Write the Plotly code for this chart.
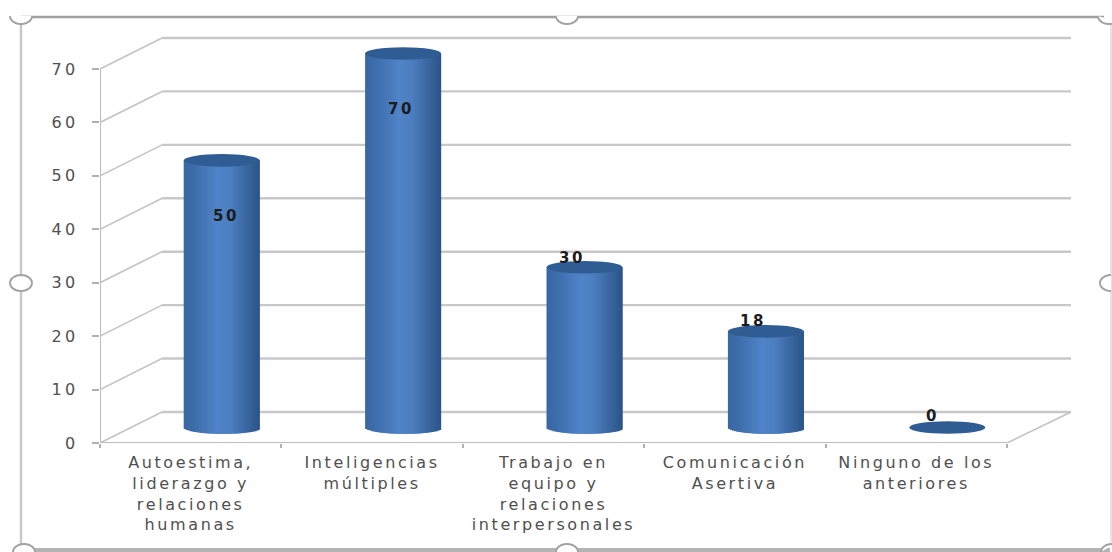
import math
import plotly.graph_objects as go

# Survey results shown as a pseudo-3D cylinder column chart
categories = [
    ["Autoestima,", "liderazgo y", "relaciones", "humanas"],
    ["Inteligencias", "múltiples"],
    ["Trabajo en", "equipo y", "relaciones", "interpersonales"],
    ["Comunicación", "Asertiva"],
    ["Ninguno de los", "anteriores"],
]
values = [50, 70, 30, 18, 0]
y_ticks = [0, 10, 20, 30, 40, 50, 60, 70]
# Where each value label sits relative to its cylinder (axis units)
label_dx = [0.022, -0.012, -0.07, -0.07, -0.08]
label_y = [42.4, 62.6, 34.6, 22.8, 5.1]

W, H = 1112, 552
PLOT_L, PLOT_R, PLOT_T, PLOT_B = 100, 1071, 30, 443
PX_PER_CAT = 181.4
PX_PER_UNIT = 5.343
X_MIN = -0.5
X_MAX = X_MIN + (PLOT_R - PLOT_L) / PX_PER_CAT
Y_MAX = (PLOT_B - PLOT_T) / PX_PER_UNIT

DEPTH_X = 62 / PX_PER_CAT      # floor depth along x
DEPTH_Y = 31 / PX_PER_UNIT     # floor depth along y
CYL_W = 76 / PX_PER_CAT
CYL_B = 6.3 / PX_PER_UNIT      # ellipse half-height
STRIPS = 38


def px(x):
    return (x - PLOT_L) / (PLOT_R - PLOT_L)


def py(y):
    return (PLOT_B - y) / (PLOT_B - PLOT_T)


def spaced(text, gap):
    # Wide tracking for axis and value text
    return f'<span style="letter-spacing:{gap}px">{text}</span>'


def shade(u):
    # u runs 0..1 across the cylinder; brightest left of centre
    stops = [(0.0, (58, 104, 164)), (0.12, (60, 108, 170)), (0.45, (80, 131, 200)),
             (0.62, (76, 126, 192)), (0.85, (56, 100, 156)), (1.0, (44, 84, 134))]
    for (a, ca), (b, cb) in zip(stops, stops[1:]):
        if u <= b:
            t = (u - a) / (b - a)
            c = [round(ca[i] + (cb[i] - ca[i]) * t) for i in range(3)]
            return f"rgb({c[0]},{c[1]},{c[2]})"
    return "rgb(44,84,134)"


fig = go.Figure()

x_pos = list(range(len(values)))
centre_shift = DEPTH_X / 2
base_level = DEPTH_Y / 2
strip_w = CYL_W / STRIPS

# Cylinder bodies: overlapping narrow strips form the shading and the curved lower rim
for i in range(STRIPS):
    u = (i + 0.5) / STRIPS
    dx = 2 * u - 1
    drop = CYL_B * math.sqrt(max(0.0, 1 - dx * dx))
    fig.add_trace(go.Bar(
        x=x_pos,
        y=[v + drop if v > 0 else 0 for v in values],
        base=[base_level - drop] * len(values),
        width=min(2.5 * strip_w, CYL_W - i * strip_w),
        offset=centre_shift - CYL_W / 2 + i * strip_w,
        marker=dict(color=shade(u), line=dict(width=0)),
        showlegend=False,
        hoverinfo="skip",
    ))

shapes = []

# Back wall and side wall gridlines
for t in y_ticks:
    shapes.append(dict(type="line", xref="x", yref="y", layer="below",
                       x0=X_MIN + DEPTH_X, x1=X_MAX, y0=t + DEPTH_Y, y1=t + DEPTH_Y,
                       line=dict(color="#c8c8c8", width=2.4)))
    shapes.append(dict(type="line", xref="x", yref="y", layer="below",
                       x0=X_MIN, x1=X_MIN + DEPTH_X, y0=t, y1=t + DEPTH_Y,
                       line=dict(color="#c4c4c4", width=1.6)))
# Right edge of the floor
shapes.append(dict(type="line", xref="x", yref="y", layer="below",
                   x0=X_MIN + 5, x1=X_MAX, y0=0, y1=DEPTH_Y,
                   line=dict(color="#c4c4c4", width=1.6)))

# Cylinder tops
for x, v in zip(x_pos, values):
    cx = x + centre_shift
    cy = v + base_level
    shapes.append(dict(type="circle", xref="x", yref="y", layer="above",
                       x0=cx - CYL_W / 2, x1=cx + CYL_W / 2,
                       y0=cy - CYL_B, y1=cy + CYL_B,
                       fillcolor="#2f5c92", line=dict(width=0)))

# Chart frame
for x0, y0, x1, y1, col, w in [
    (21, 17, 1104, 17, "#a0a0a0", 2.4),
    (21, 17, 21, 549, "#c8c8c8", 2.4),
    (21, 550, 1110, 550, "#b4b4b4", 4),
    (1111, 22, 1111, 542, "#c8c8c8", 1),
]:
    shapes.append(dict(type="line", xref="paper", yref="paper",
                       x0=px(x0), x1=px(x1), y0=py(y0), y1=py(y1),
                       line=dict(color=col, width=w)))


def arc(cx, cy, rx, ry, a0, a1, n=28):
    pts = []
    for k in range(n + 1):
        a = math.radians(a0 + (a1 - a0) * k / n)
        pts.append((px(cx + rx * math.cos(a)), py(cy + ry * math.sin(a))))
    return "M " + " L ".join(f"{p[0]:.5f} {p[1]:.5f}" for p in pts)


# Selection handles on the frame
for cx, cy, a0, a1 in [
    (21, 16, 0, 180), (567, 16, 0, 180), (1109, 16, 40, 180),
    (21, 283, 0, 360), (1111, 283, 90, 270),
    (24, 552, 180, 360), (567, 552, 180, 360), (1112, 552, 180, 280),
]:
    shapes.append(dict(type="path", xref="paper", yref="paper", path=arc(cx, cy, 11, 8, a0, a1),
                       fillcolor="#ffffff", line=dict(color="#a2a2a2", width=2)))

# Value labels
annotations = [
    dict(x=x + centre_shift + dx, y=ly, xref="x", yref="y", text=spaced(v, 2.5), showarrow=False,
         font=dict(family="DejaVu Sans", size=15, color="#1c1c1c", weight="bold"))
    for x, v, dx, ly in zip(x_pos, values, label_dx, label_y)
]

# Axis lines, allowed to draw right on the plot edge
fig.add_trace(go.Scatter(x=[X_MIN, X_MIN, None, X_MIN, X_MIN + 5], y=[0, 70, None, 0, 0],
                         mode="lines", cliponaxis=False, showlegend=False, hoverinfo="skip",
                         line=dict(color="#bcbcbc", width=2)))

font = dict(family="DejaVu Sans", size=16, color="#505050")
x_labels = ["<br>".join(spaced(line, 2.6) for line in lines) for lines in categories]
y_labels = [spaced(t, 3.5) for t in y_ticks]

fig.update_layout(
    width=W, height=H,
    margin=dict(l=PLOT_L, r=W - PLOT_R, t=PLOT_T, b=H - PLOT_B, autoexpand=False),
    paper_bgcolor="white", plot_bgcolor="white",
    barmode="overlay", showlegend=False,
    shapes=shapes, annotations=annotations,
    xaxis=dict(range=[X_MIN, X_MAX], tickmode="array", tickvals=x_pos, ticktext=x_labels,
               ticks="", showgrid=False, zeroline=False, showline=False, tickangle=0,
               ticklabelstandoff=8, tickfont=font,
               minor=dict(tickmode="array", tickvals=[X_MIN + k for k in range(6)],
                          ticks="outside", ticklen=4, tickcolor="#b0b0b0", tickwidth=1.5)),
    yaxis=dict(range=[0, Y_MAX], tickmode="array", tickvals=y_ticks, ticktext=y_labels,
               showgrid=False, zeroline=False, showline=False, ticks="outside", ticklen=7,
               tickcolor="#b0b0b0", tickwidth=1.5, ticklabelstandoff=10, tickfont=font),
)

fig.write_html("out.html")
